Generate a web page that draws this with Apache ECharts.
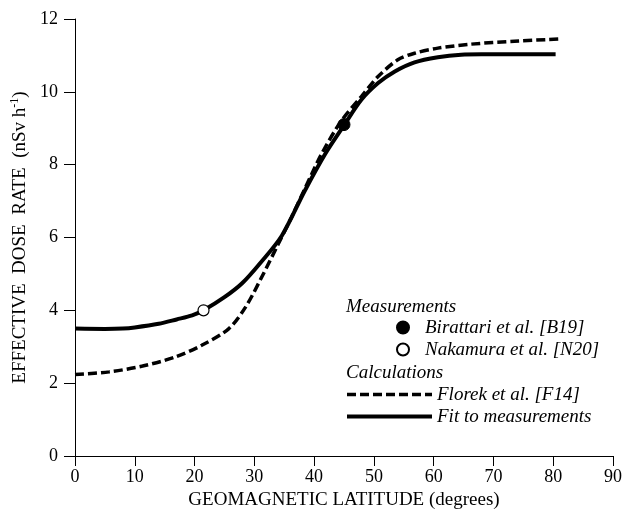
<!DOCTYPE html>
<html>
<head>
<meta charset="utf-8">
<script src="https://cdn.jsdelivr.net/npm/echarts@6/dist/echarts.min.js"></script>
<style>
html,body{margin:0;padding:0;background:#fff;}
#chart{width:625px;height:515px;}
</style>
</head>
<body>
<div id="chart"></div>
<script>
// ---- data ----
var xTicks = [0, 10, 20, 30, 40, 50, 60, 70, 80, 90];
var yTicks = [0, 2, 4, 6, 8, 10, 12];
var fitX = [0, 5, 8, 10, 14, 17, 19.6, 21.5, 25, 28, 31, 34.6, 38.4, 41.8, 45, 47.9, 50.7, 53.5, 56.8, 60.7, 64.6, 68, 80.4];
var fitY = [3.50, 3.49, 3.50, 3.53, 3.63, 3.75, 3.86, 4.0, 4.36, 4.75, 5.3, 6.05, 7.27, 8.28, 9.08, 9.78, 10.24, 10.56, 10.81, 10.95, 11.02, 11.03, 11.03];
var florekX = [0, 5.7, 11.3, 16.8, 21.2, 25.7, 28.5, 31.2, 34, 36.2, 38.4, 41.2, 44.5, 47.9, 50.7, 54, 56.8, 60.7, 66.3, 73.5, 81.1];
var florekY = [2.24, 2.31, 2.47, 2.72, 3.04, 3.49, 4.08, 4.9, 5.82, 6.55, 7.32, 8.28, 9.19, 9.87, 10.42, 10.88, 11.06, 11.2, 11.31, 11.39, 11.45];
var birattari = [[45, 9.1]];
var nakamura = [[21.5, 4.0]];
var names = {
  birattari: 'Birattari et al. [B19]',
  nakamura: 'Nakamura et al. [N20]',
  florek: 'Florek et al. [F14]',
  fit: 'Fit to measurements'
};

function zip(xs, ys) { return xs.map(function (x, i) { return [x, ys[i]]; }); }

var serif = '"Liberation Serif", "Times New Roman", "DejaVu Serif", serif';
var legendText = {fontFamily: serif, fontStyle: 'italic', fontSize: 19, color: '#000', lineHeight: 19};
var chart = echarts.init(document.getElementById('chart'), null, {renderer: 'canvas'});
chart.setOption({
  backgroundColor: '#fff',
  animation: false,
  grid: {left: 75, right: 9, top: 19, bottom: 59, containLabel: false},
  xAxis: {
    type: 'value', min: xTicks[0], max: xTicks[xTicks.length - 1], interval: 10,
    name: 'GEOMAGNETIC LATITUDE (degrees)', nameLocation: 'middle', nameGap: 35,
    nameTextStyle: {fontFamily: serif, fontSize: 19, color: '#000'},
    axisLine: {show: true, lineStyle: {color: '#000', width: 1}},
    axisTick: {show: true, length: 10, lineStyle: {color: '#000', width: 1}},
    axisLabel: {fontFamily: serif, fontSize: 18, color: '#000', margin: 12},
    splitLine: {show: false}
  },
  yAxis: {
    type: 'value', min: yTicks[0], max: yTicks[yTicks.length - 1], interval: 2,
    name: '{m|EFFECTIVE  DOSE  RATE  (nSv h}{s|-1}{m|)}', nameLocation: 'middle', nameGap: 44,
    nameTextStyle: {
      fontFamily: serif, fontSize: 19, color: '#000',
      rich: {
        m: {fontFamily: serif, fontSize: 19, color: '#000', lineHeight: 22},
        s: {fontFamily: serif, fontSize: 12, color: '#000', lineHeight: 13, verticalAlign: 'top'}
      }
    },
    axisLine: {show: true, lineStyle: {color: '#000', width: 1}},
    axisTick: {show: true, length: 11, lineStyle: {color: '#000', width: 1}},
    axisLabel: {fontFamily: serif, fontSize: 18, color: '#000', margin: 17},
    splitLine: {show: false}
  },
  legend: [
    {
      data: [names.birattari, names.nakamura],
      orient: 'vertical', left: 396, top: 318, padding: 0,
      itemWidth: 34, itemHeight: 12, itemGap: 3,
      textStyle: legendText,
      selectedMode: false
    },
    {
      data: [
        {name: names.florek, itemStyle: {opacity: 0}, lineStyle: {width: 3.5, type: [9, 4], color: '#000'}},
        {name: names.fit, itemStyle: {opacity: 0}, lineStyle: {width: 4, type: 'solid', color: '#000'}}
      ],
      orient: 'vertical', left: 345, top: 385, padding: 0,
      itemWidth: 85, itemHeight: 12, itemGap: 3,
      textStyle: legendText,
      selectedMode: false
    }
  ],
  graphic: [
    {type: 'text', left: 346, top: 297, style: {text: 'Measurements', font: 'italic 19px ' + serif, fill: '#000'}},
    {type: 'text', left: 346, top: 363, style: {text: 'Calculations', font: 'italic 19px ' + serif, fill: '#000'}}
  ],
  series: [
    {
      name: names.florek, type: 'line', data: zip(florekX, florekY),
      smooth: 0.3, symbol: 'none', z: 2,
      lineStyle: {color: '#000', width: 3.5, type: [9, 4]},
      itemStyle: {color: '#000'}
    },
    {
      name: names.fit, type: 'line', data: zip(fitX, fitY),
      smooth: 0.3, symbol: 'none', z: 3,
      lineStyle: {color: '#000', width: 4, type: 'solid'},
      itemStyle: {color: '#000'}
    },
    {
      name: names.birattari, type: 'scatter', data: birattari,
      symbol: 'circle', symbolSize: 12, z: 5,
      itemStyle: {color: '#000', borderColor: '#000', borderWidth: 1, opacity: 1}
    },
    {
      name: names.nakamura, type: 'scatter', data: nakamura,
      symbol: 'circle', symbolSize: 11, z: 5,
      itemStyle: {color: '#fff', borderColor: '#000', borderWidth: 1.2, opacity: 1}
    }
  ]
});
</script>
</body>
</html>
